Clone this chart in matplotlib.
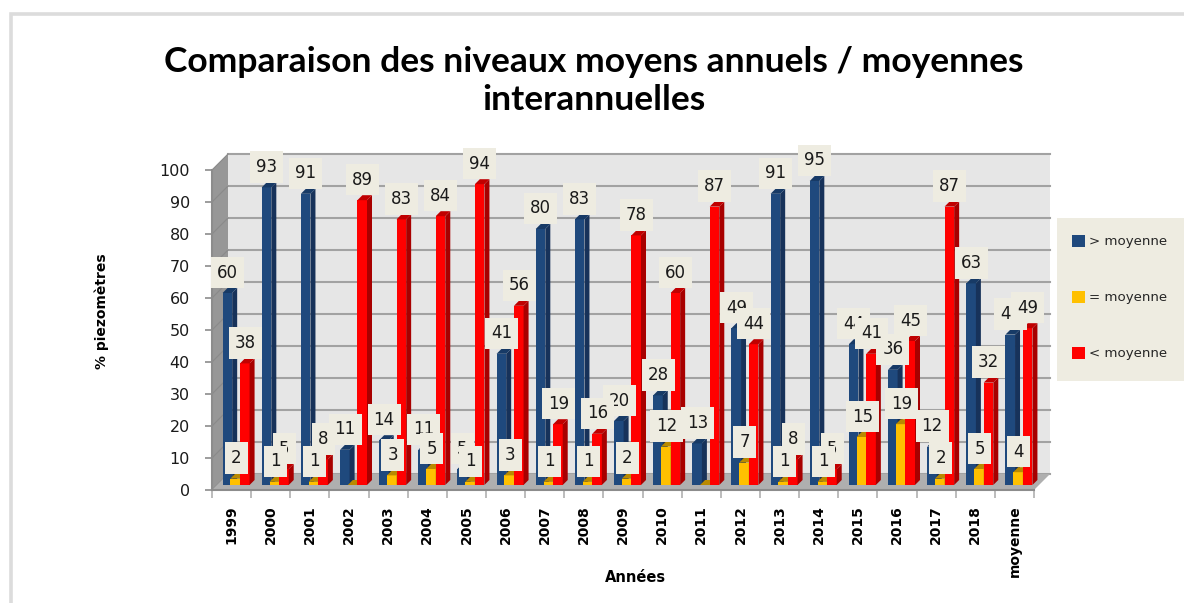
import matplotlib
matplotlib.use("Agg")
import matplotlib.pyplot as plt
from matplotlib.patches import Polygon, Rectangle

W, H = 1184, 603
categories = ["1999","2000","2001","2002","2003","2004","2005","2006","2007","2008","2009",
              "2010","2011","2012","2013","2014","2015","2016","2017","2018","moyenne"]
above = [60,93,91,11,14,11,5,41,80,83,20,28,13,49,91,95,44,36,12,63,47]
equal = [2,1,1,0,3,5,1,3,1,1,2,12,0,7,1,1,15,19,2,5,4]
below = [38,5,8,89,83,84,94,56,19,16,78,60,87,44,8,5,41,45,87,32,49]
y_ticks = list(range(0, 101, 10))
series_names = ["> moyenne", "= moyenne", "< moyenne"]
title = "Comparaison des niveaux moyens annuels / moyennes\ninterannuelles"

fig = plt.figure(figsize=(W/100, H/100), dpi=100, facecolor="white")
L, R, T, B = 212, 1034, 170, 490
ax = fig.add_axes([L/W, (H-B)/H, (R-L)/W, (B-T)/H])
ax.set_xlim(-0.5, 20.5)
ax.set_ylim(0, 100)
ax.set_facecolor("none")
px_x = 21/(R-L)
px_y = 100/(B-T)

# outer chart frame
fig.add_artist(plt.Line2D([11/W, 11/W, 1], [0, 1-14/H, 1-14/H], color="#DCDCDC", lw=2.6,
                          solid_joinstyle="miter"))
# 3D walls and floor
dx, dy = 16*px_x, 16*px_y
x0, x1 = -0.5, 20.5
ax.add_patch(Polygon([[x0+dx, dy], [x1+dx, dy], [x1+dx, 100+dy], [x0+dx, 100+dy]],
                     fc="#E6E6E6", ec="none", zorder=1, clip_on=False))
ax.add_patch(Polygon([[x0, 0], [x0+dx, dy], [x0+dx, 100+dy], [x0, 100]],
                     fc="#979797", ec="none", zorder=1, clip_on=False))
ax.add_patch(Polygon([[x0, 0], [x1, 0], [x1+dx, dy], [x0+dx, dy]],
                     fc="#AFAFAF", ec="none", zorder=1.2, clip_on=False))
for v in y_ticks:
    ax.plot([x0+dx, x1+dx], [v+dy, v+dy], color="#A2A2A2", lw=1.5, zorder=1.1, clip_on=False)
    ax.plot([x0, x0+dx], [v, v+dy], color="#8A8A8A", lw=0.8, zorder=1.1, clip_on=False)

base = 5*px_y
d_x, d_y = 5*px_x, 5*px_y
bw = 9.6*px_x
groups = [
    (above, -4.2*px_x, "#1F497D", "#17325A", "#173A66", 3),
    (equal, 3.6*px_x, "#FFC000", "#B98A00", "#B98A00", 4),
    (below, 13.2*px_x, "#FF0000", "#A80000", "#C00000", 5),
]
xs = list(range(len(categories)))
for vals, off, col, side, top, z in groups:
    pos = [x + off for x in xs]
    ax.bar(pos, vals, width=bw, bottom=base, color=col, zorder=z, clip_on=False)
    for p, v in zip(pos, vals):
        t = base + v
        ax.add_patch(Polygon([[p+bw/2, base], [p+bw/2+d_x, base+d_y], [p+bw/2+d_x, t+d_y], [p+bw/2, t]],
                             fc=side, ec="none", zorder=z, clip_on=False))
        ax.add_patch(Polygon([[p-bw/2, t], [p+bw/2, t], [p+bw/2+d_x, t+d_y], [p-bw/2+d_x, t+d_y]],
                             fc=top, ec="none", zorder=z, clip_on=False))

# data labels (blue, then red, then yellow on top)
label_font = dict(family="DejaVu Sans", fontsize=12, color="#1A1A1A", ha="center", va="center")
z = 10
for vals, off in [(above, -4*px_x), (below, 13.5*px_x), (equal, 4.5*px_x)]:
    for x, v in zip(xs, vals):
        if v == 0:
            continue
        cx, cy = x + off, base + v + 20.5*px_y
        bw_lab = (33 if v >= 10 else 23)*px_x
        bh_lab = 31.5*px_y
        ax.add_patch(Rectangle((cx-bw_lab/2, cy-bh_lab/2), bw_lab, bh_lab, fc="#EEECE1", ec="none",
                               zorder=z, clip_on=False))
        ax.text(cx, cy, str(v), zorder=z+0.5, clip_on=False, **label_font)
        z += 1

# axes
for s in ["top", "right"]:
    ax.spines[s].set_visible(False)
for s in ["left", "bottom"]:
    ax.spines[s].set_color("#8C8C8C")
    ax.spines[s].set_linewidth(1.5)
    ax.spines[s].set_zorder(2)
ax.set_yticks(y_ticks)
ax.tick_params(axis="y", length=5, width=1.2, color="#8C8C8C", pad=11, labelsize=11.5,
               labelcolor="#1A1A1A")
ax.set_xticks(xs)
ax.set_xticklabels(categories, rotation=90, fontweight="bold", fontsize=10, color="black")
ax.tick_params(axis="x", which="major", length=0, pad=11)
ax.set_xticks([x - 0.5 for x in xs] + [20.5], minor=True)
ax.tick_params(axis="x", which="minor", length=6, width=1.2, color="#B0B0B0")
for lab in ax.get_xticklabels():
    lab.set_va("top")
ax.set_ylabel("% piezomètres", fontweight="bold", fontsize=10, color="black")
ax.yaxis.set_label_coords((109-L)/(R-L), (B-311)/(B-T))
ax.set_xlabel("Années", fontweight="bold", fontsize=10.5, color="black")
ax.xaxis.set_label_coords((635-L)/(R-L), (B-577)/(B-T))
ax.xaxis.label.set_va("center")

# title
fig.text(594/W, 1-81/H, title, ha="center", va="center", family="Lato", fontweight="bold",
         fontsize=25.5, color="black", linespacing=1.22)

# legend
fig.add_artist(Rectangle((1057/W, 1-381/H), 127/W, 163/H, transform=fig.transFigure,
                         fc="#EEECE1", ec="none"))
handles = [Rectangle((0, 0), 1, 1, fc=c) for c in ("#1F497D", "#FFC000", "#FF0000")]
leg = fig.legend(handles, series_names, loc="upper left", bbox_to_anchor=(1072/W, 1-235/H),
                 frameon=False, borderpad=0, borderaxespad=0, labelspacing=3.2, handlelength=0.95,
                 handleheight=0.95, handletextpad=0.3, prop=dict(family="DejaVu Sans", size=9.6),
                 labelcolor="#262626")
fig.savefig("out.png", dpi=100)
